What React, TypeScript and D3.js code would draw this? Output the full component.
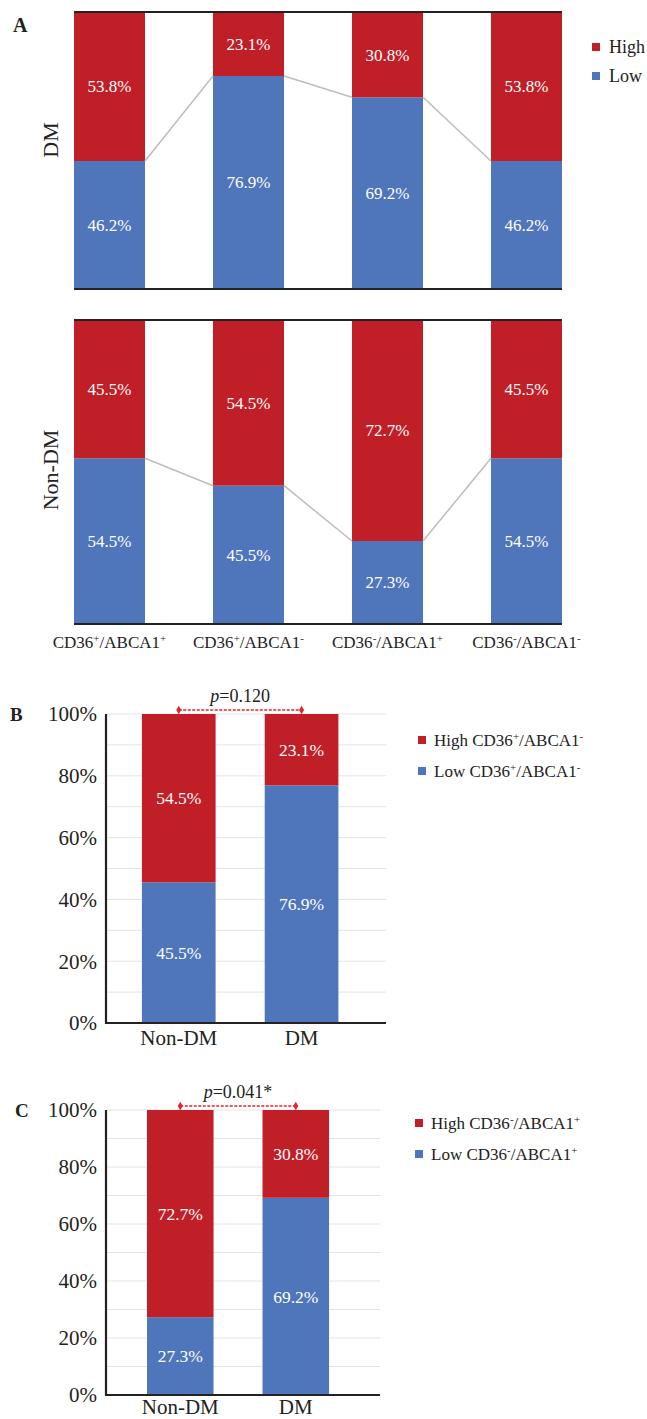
import React from "react";
import * as d3 from "d3";

// Receptor phenotype subsets (CD36 sign, ABCA1 sign)
const subsetSigns: [string, string][] = [
  ["+", "+"],
  ["+", "-"],
  ["-", "+"],
  ["-", "-"],
];
const subsetKeys = ["pp", "pm", "mp", "mm"];

// Panel A: share of High / Low per subset (%)
const dmHigh = [53.8, 23.1, 30.8, 53.8];
const dmLow = [46.2, 76.9, 69.2, 46.2];
const nonDmHigh = [45.5, 54.5, 72.7, 45.5];
const nonDmLow = [54.5, 45.5, 27.3, 54.5];

// Panels B and C: groups and stacked shares (%)
const groups = ["Non-DM", "DM"];
const bLow = [45.5, 76.9];
const bHigh = [54.5, 23.1];
const cLow = [27.3, 69.2];
const cHigh = [72.7, 30.8];
const pValueB = "0.120";
const pValueC = "0.041*";

const yTicks = [0, 20, 40, 60, 80, 100];
const gridTicks = [10, 20, 30, 40, 50, 60, 70, 80, 90, 100];

const RED = "#c01f27";
const BLUE = "#4f75ba";
const INK = "#222";
const FONT = "Liberation Serif, Tinos, Times New Roman, Times, DejaVu Serif, serif";

const fmt = (v: number) => `${v.toFixed(1)}%`;

function SupLabel({
  x,
  y,
  prefix,
  signs,
  size,
  anchor = "middle",
}: {
  x: number;
  y: number;
  prefix: string;
  signs: [string, string];
  size: number;
  anchor?: string;
}) {
  const sup = Math.round(size * 0.62);
  const lift = size * 0.38;
  return (
    <text x={x} y={y} fontSize={size} fontFamily={FONT} fill={INK} textAnchor={anchor}>
      {prefix}CD36
      <tspan fontSize={sup} dy={-lift}>{signs[0]}</tspan>
      <tspan dy={lift}>/ABCA1</tspan>
      <tspan fontSize={sup} dy={-lift}>{signs[1]}</tspan>
    </text>
  );
}

// One row of panel A: four stacked 100% bars with a connector across the Low tops
function PanelARow({
  high,
  low,
  top,
  bottom,
  rowLabel,
  labelY,
}: {
  high: number[];
  low: number[];
  top: number;
  bottom: number;
  rowLabel: string;
  labelY: number;
}) {
  const x = d3.scaleBand<string>().domain(subsetKeys).range([74, 562]).paddingInner(0.489).paddingOuter(0);
  const y = d3.scaleLinear().domain([0, 100]).range([bottom, top]);
  const bw = x.bandwidth();
  const connector = d3
    .line<[number, number]>()
    .x((d) => d[0])
    .y((d) => d[1]);
  const pts: [number, number][] = [];
  subsetKeys.forEach((k, i) => {
    pts.push([x(k)!, y(low[i])]);
    pts.push([x(k)! + bw, y(low[i])]);
  });
  return (
    <g>
      {subsetKeys.map((k, i) => (
        <g key={k}>
          <rect x={x(k)} y={y(low[i])} width={bw} height={y(0) - y(low[i])} fill={BLUE} />
          <rect x={x(k)} y={y(low[i] + high[i])} width={bw} height={y(low[i]) - y(low[i] + high[i])} fill={RED} />
          <text
            x={x(k)! + bw / 2}
            y={(y(low[i]) + y(low[i] + high[i])) / 2}
            dy="0.35em"
            fill="#fff"
            fontSize={17}
            fontFamily={FONT}
            textAnchor="middle"
          >
            {fmt(high[i])}
          </text>
          <text
            x={x(k)! + bw / 2}
            y={(y(0) + y(low[i])) / 2}
            dy="0.35em"
            fill="#fff"
            fontSize={17}
            fontFamily={FONT}
            textAnchor="middle"
          >
            {fmt(low[i])}
          </text>
        </g>
      ))}
      {subsetKeys.slice(0, -1).map((k, i) => (
        <path
          key={`c${k}`}
          d={connector([pts[i * 2 + 1], pts[i * 2 + 2]]) || ""}
          stroke="#bdbdbd"
          strokeWidth={1.5}
          fill="none"
        />
      ))}
      <line x1={74} x2={562} y1={top} y2={top} stroke={INK} strokeWidth={2} />
      <line x1={74} x2={562} y1={bottom} y2={bottom} stroke={INK} strokeWidth={2} />
      <text
        transform={`translate(58,${labelY}) rotate(-90)`}
        textAnchor="middle"
        fontSize={22}
        fontFamily={FONT}
        fill={INK}
      >
        {rowLabel}
      </text>
    </g>
  );
}

// Panels B and C: two-group stacked bars with a p-value bracket
function GroupPanel({
  low,
  high,
  top,
  bottom,
  pi,
  po,
  align,
  gridRight,
  pText,
  letter,
  letterX,
  legendY,
  legendX,
  signs,
  catOffset,
}: {
  low: number[];
  high: number[];
  top: number;
  bottom: number;
  pi: number;
  po: number;
  align: number;
  gridRight: number;
  pText: string;
  letter: string;
  letterX: number;
  legendY: number;
  legendX: number;
  signs: [string, string];
  catOffset: number;
}) {
  const left = 106;
  const x = d3.scaleBand<string>().domain(groups).range([left, gridRight]).paddingInner(pi).paddingOuter(po).align(align);
  const y = d3.scaleLinear().domain([0, 100]).range([bottom, top]);
  const bw = x.bandwidth();
  const c0 = x(groups[0])! + bw / 2;
  const c1 = x(groups[1])! + bw / 2;
  const bracketY = y(100) - 4;
  const diamond = d3.symbol().type(d3.symbolDiamond).size(22)() || "";
  return (
    <g>
      {gridTicks.map((t) => (
        <line key={t} x1={left} x2={gridRight} y1={y(t)} y2={y(t)} stroke="#e4e4e4" strokeWidth={1} />
      ))}
      {groups.map((g, i) => (
        <g key={g}>
          <rect x={x(g)} y={y(low[i])} width={bw} height={y(0) - y(low[i])} fill={BLUE} />
          <rect x={x(g)} y={y(low[i] + high[i])} width={bw} height={y(low[i]) - y(low[i] + high[i])} fill={RED} />
          <text
            x={x(g)! + bw / 2}
            y={(y(low[i]) + y(low[i] + high[i])) / 2}
            dy="0.35em"
            fill="#fff"
            fontSize={17.5}
            fontFamily={FONT}
            textAnchor="middle"
          >
            {fmt(high[i])}
          </text>
          <text
            x={x(g)! + bw / 2}
            y={(y(0) + y(low[i])) / 2}
            dy="0.35em"
            fill="#fff"
            fontSize={17.5}
            fontFamily={FONT}
            textAnchor="middle"
          >
            {fmt(low[i])}
          </text>
          <text x={x(g)! + bw / 2} y={bottom + catOffset} fontSize={21} fontFamily={FONT} fill={INK} textAnchor="middle">
            {g}
          </text>
        </g>
      ))}
      {yTicks.map((t) => (
        <text key={t} x={97} y={y(t)} dy="0.35em" fontSize={21} fontFamily={FONT} fill={INK} textAnchor="end">
          {`${t}%`}
        </text>
      ))}
      <line x1={left} x2={left} y1={top} y2={bottom + 1} stroke={INK} strokeWidth={2.2} />
      <line x1={left} x2={gridRight} y1={bottom} y2={bottom} stroke={INK} strokeWidth={2.2} />
      <line x1={c0} x2={c1} y1={bracketY} y2={bracketY} stroke="#e0262b" strokeWidth={1.4} strokeDasharray="3,1.5" />
      <path d={diamond} transform={`translate(${c0},${bracketY})`} fill="#e0262b" />
      <path d={diamond} transform={`translate(${c1},${bracketY})`} fill="#e0262b" />
      <text x={(c0 + c1) / 2} y={bracketY - 8} fontSize={18} fontFamily={FONT} fill={INK} textAnchor="middle">
        <tspan fontStyle="italic">p</tspan>={pText}
      </text>
      <text x={letterX} y={top + 7} fontSize={19} fontWeight="bold" fontFamily={FONT} fill={INK}>
        {letter}
      </text>
      <rect x={legendX} y={legendY - 4} width={8} height={8} fill={RED} />
      <rect x={legendX} y={legendY + 27} width={8} height={8} fill={BLUE} />
      <SupLabel x={legendX + 16} y={legendY + 6} prefix="High " signs={signs} size={17} anchor="start" />
      <SupLabel x={legendX + 16} y={legendY + 37} prefix="Low " signs={signs} size={17} anchor="start" />
    </g>
  );
}

export default function App() {
  const xA = d3.scaleBand<string>().domain(subsetKeys).range([74, 562]).paddingInner(0.489).paddingOuter(0);
  return (
    <svg
      width={647}
      height={1419}
      viewBox="0 0 647 1419"
      style={{ position: "absolute", left: 0, top: 0, background: "#fff" }}
    >
      <rect width={647} height={1419} fill="#fff" />
      <text x={13} y={32} fontSize={20} fontWeight="bold" fontFamily={FONT} fill={INK}>
        A
      </text>
      <PanelARow high={dmHigh} low={dmLow} top={12} bottom={289} rowLabel="DM" labelY={140} />
      <PanelARow high={nonDmHigh} low={nonDmLow} top={320} bottom={624} rowLabel="Non-DM" labelY={470} />
      {subsetKeys.map((k, i) => (
        <SupLabel key={k} x={xA(k)! + xA.bandwidth() / 2} y={648} prefix="" signs={subsetSigns[i]} size={17} />
      ))}
      <rect x={592} y={43} width={8} height={8} fill={RED} />
      <rect x={592} y={72} width={8} height={8} fill={BLUE} />
      <text x={609} y={53} fontSize={18} fontFamily={FONT} fill={INK}>
        High
      </text>
      <text x={609} y={82} fontSize={18} fontFamily={FONT} fill={INK}>
        Low
      </text>

      <GroupPanel
        low={bLow}
        high={bHigh}
        top={714}
        bottom={1023}
        pi={0.4}
        po={0.34}
        align={0.43}
        gridRight={386}
        pText={pValueB}
        letter="B"
        letterX={10}
        legendY={740}
        legendX={418}
        signs={subsetSigns[1]}
        catOffset={22}
      />
      <GroupPanel
        low={cLow}
        high={cHigh}
        top={1110}
        bottom={1395}
        pi={0.424}
        po={0.398}
        align={0.446}
        gridRight={380}
        pText={pValueC}
        letter="C"
        letterX={15}
        legendY={1123}
        legendX={415}
        signs={subsetSigns[2]}
        catOffset={19}
      />
    </svg>
  );
}
